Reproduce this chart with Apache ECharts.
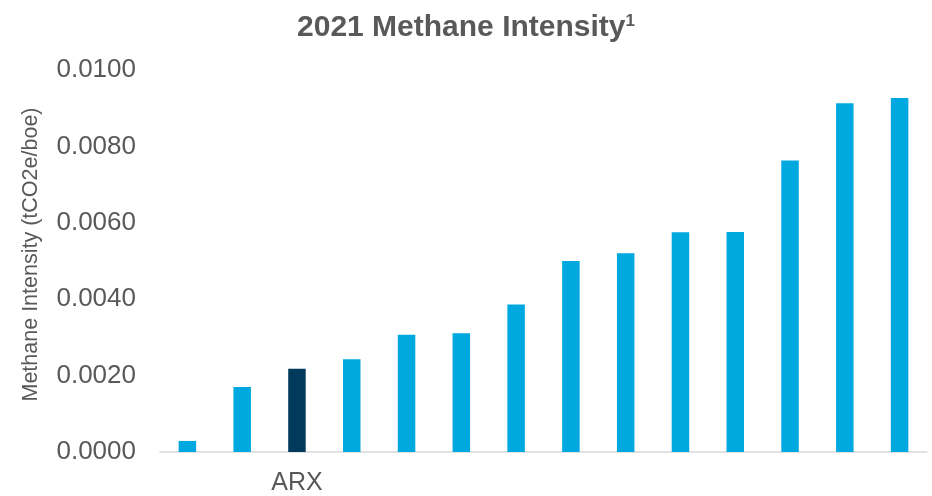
<!DOCTYPE html>
<html>
<head>
<meta charset="utf-8">
<script src="https://cdn.jsdelivr.net/npm/echarts@6/dist/echarts.min.js"></script>
<style>html,body{margin:0;padding:0;background:#fff}#c{width:932px;height:496px}</style>
</head>
<body>
<div id="c"></div>
<script>
const categories = ["Peer 1", "Peer 2", "ARX", "Peer 4", "Peer 5", "Peer 6", "Peer 7", "Peer 8", "Peer 9", "Peer 10", "Peer 11", "Peer 12", "Peer 13", "Peer 14"];
const shownLabels = ["ARX"];
const intensity = [0.00029, 0.00170, 0.00218, 0.00243, 0.00307, 0.00311, 0.00386, 0.00500, 0.00520, 0.00575, 0.00576, 0.00763, 0.00913, 0.00927];
const highlight = "ARX";

const chart = echarts.init(document.getElementById('c'));
chart.setOption({
  animation: false,
  title: {
    text: '{t|2021 Methane Intensity}{s|1}',
    left: 'center',
    top: 8,
    textStyle: {
      rich: {
        t: { fontFamily: 'Liberation Sans, Arial, sans-serif', fontWeight: 'bold', fontSize: 30, color: '#595959' },
        s: { fontFamily: 'Liberation Sans, Arial, sans-serif', fontWeight: 'bold', fontSize: 17, color: '#595959', verticalAlign: 'top', padding: [0, 0, 12, 0] }
      }
    }
  },
  grid: { left: 160, right: 5, top: 70, bottom: 43 },
  xAxis: {
    type: 'category',
    data: categories,
    axisLine: { lineStyle: { color: '#D9D9D9', width: 1.5 } },
    axisTick: { show: false },
    axisLabel: {
      interval: 0,
      margin: 19,
      fontFamily: 'Liberation Sans, Arial, sans-serif',
      fontSize: 25,
      color: '#595959',
      formatter: v => shownLabels.includes(v) ? v : ''
    }
  },
  yAxis: {
    type: 'value',
    min: 0,
    max: 0.01,
    interval: 0.002,
    name: 'Methane Intensity (tCO2e/boe)',
    nameLocation: 'middle',
    nameGap: 118,
    nameTextStyle: { fontFamily: 'Liberation Sans, Arial, sans-serif', fontSize: 21.5, color: '#595959', padding: [0, 0, 0, 13] },
    axisLine: { show: false },
    axisTick: { show: false },
    splitLine: { show: false },
    axisLabel: {
      margin: 24,
      fontFamily: 'Liberation Sans, Arial, sans-serif',
      fontSize: 26,
      color: '#595959',
      formatter: v => v.toFixed(4)
    }
  },
  series: [{
    type: 'bar',
    barWidth: 17.5,
    data: intensity.map((v, i) => ({
      value: v,
      itemStyle: { color: categories[i] === highlight ? '#023A5B' : '#00A8E0' }
    }))
  }]
});
</script>
</body>
</html>
